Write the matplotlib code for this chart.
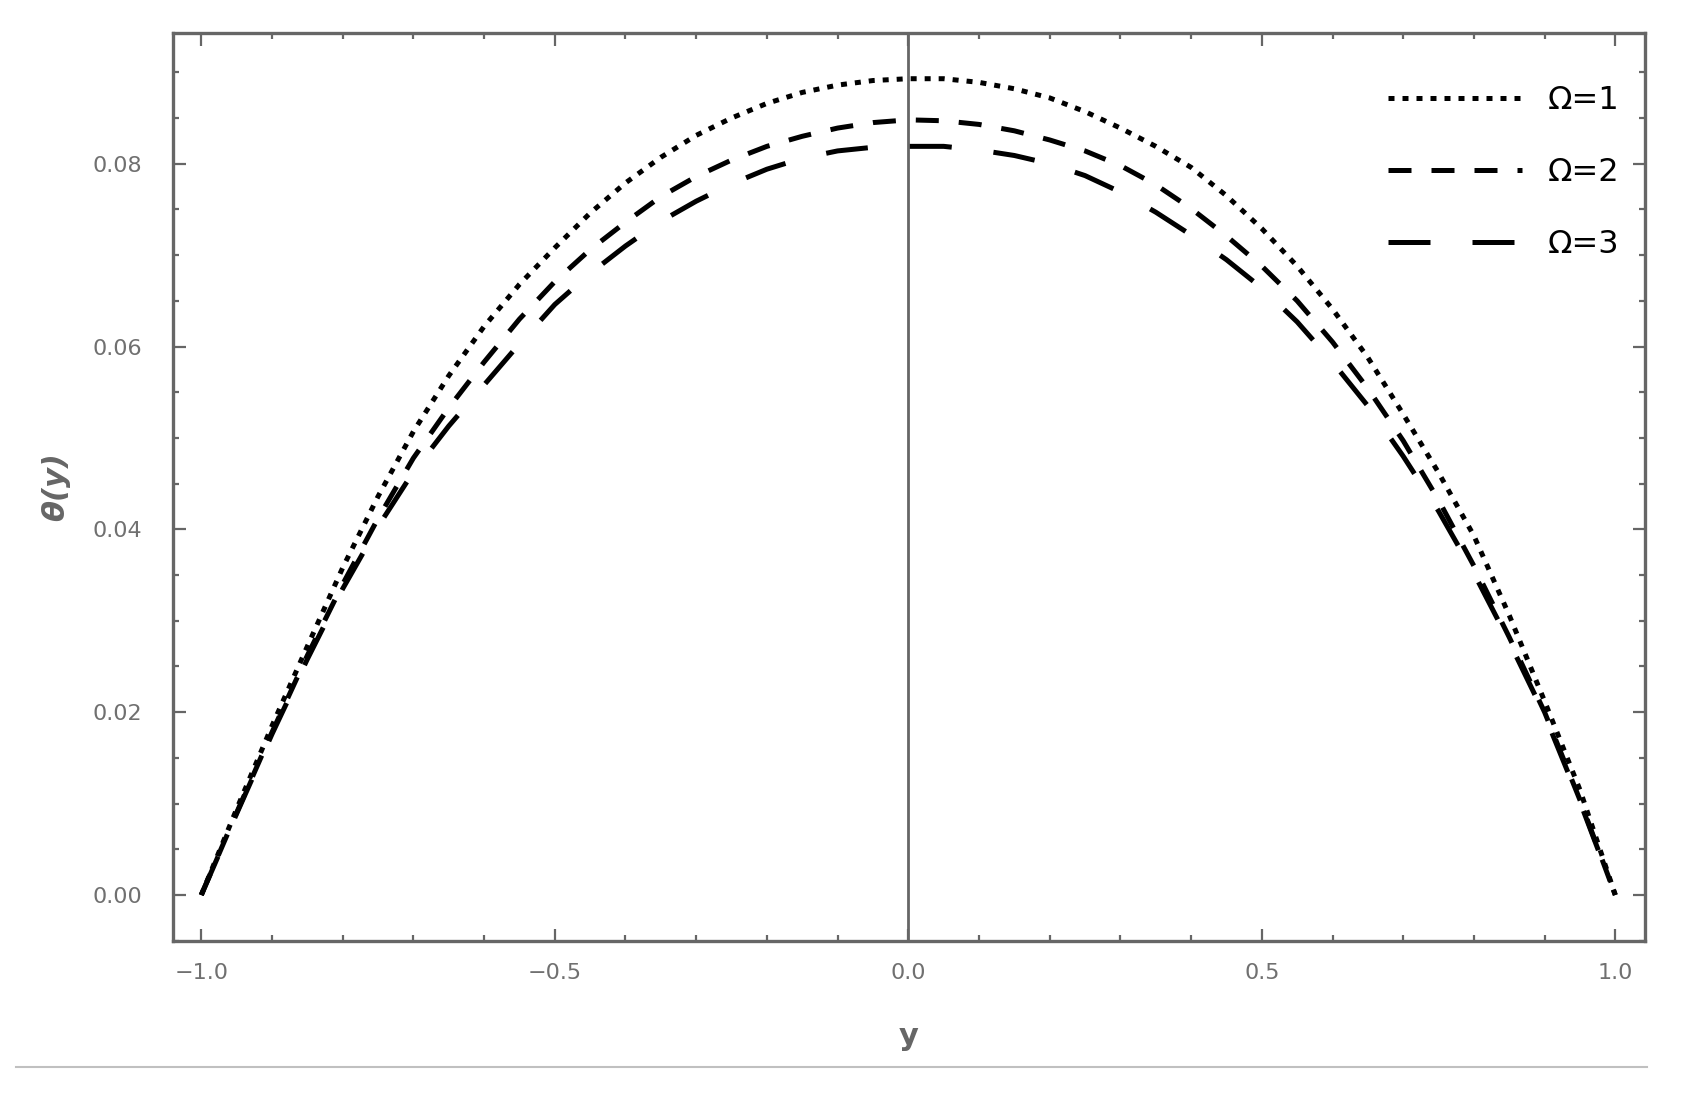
import matplotlib
matplotlib.use("Agg")
import matplotlib.pyplot as plt
from matplotlib.lines import Line2D
from matplotlib.ticker import MultipleLocator

# values
y_values = [-1.0, -0.95, -0.9, -0.85, -0.8, -0.75, -0.7, -0.65, -0.6, -0.55, -0.5,
            -0.45, -0.4, -0.35, -0.3, -0.25, -0.2, -0.15, -0.1, -0.05, 0.0,
            0.05, 0.1, 0.15, 0.2, 0.25, 0.3, 0.35, 0.4, 0.45, 0.5,
            0.55, 0.6, 0.65, 0.7, 0.75, 0.8, 0.85, 0.9, 0.95, 1.0]
theta_omega1 = [0.0, 0.0094, 0.0185, 0.0272, 0.0358, 0.0436, 0.0507, 0.0568, 0.0622, 0.0668, 0.0708,
                0.0746, 0.0779, 0.0807, 0.0831, 0.0850, 0.0866, 0.0878, 0.0886, 0.0891, 0.0893,
                0.0893, 0.0889, 0.0882, 0.0872, 0.0857, 0.0839, 0.0819, 0.0796, 0.0765, 0.0729,
                0.0688, 0.0641, 0.0588, 0.0526, 0.0462, 0.0393, 0.0306, 0.0212, 0.0115, 0.0]
theta_omega2 = [0.0, 0.0090, 0.0178, 0.0262, 0.0340, 0.0412, 0.0478, 0.0533, 0.0583, 0.0630, 0.0671,
                0.0706, 0.0736, 0.0764, 0.0786, 0.0804, 0.0819, 0.0830, 0.0839, 0.0845, 0.0848,
                0.0847, 0.0843, 0.0836, 0.0826, 0.0814, 0.0798, 0.0777, 0.0751, 0.0721, 0.0688,
                0.0650, 0.0605, 0.0554, 0.0497, 0.0432, 0.0360, 0.0282, 0.0200, 0.0104, 0.0]
theta_omega3 = [0.0, 0.0089, 0.0176, 0.0258, 0.0335, 0.0403, 0.0463, 0.0513, 0.0558, 0.0603, 0.0646,
                0.0680, 0.0710, 0.0737, 0.0759, 0.0778, 0.0794, 0.0806, 0.0814, 0.0818, 0.0819,
                0.0819, 0.0815, 0.0809, 0.0800, 0.0787, 0.0769, 0.0747, 0.0722, 0.0695, 0.0664,
                0.0627, 0.0583, 0.0535, 0.0480, 0.0420, 0.0352, 0.0277, 0.0197, 0.0102, 0.0]
series_labels = ["\u03a9=1", "\u03a9=2", "\u03a9=3"]

AXIS_GRAY = "#666666"
LABEL_GRAY = "#707070"
LW = 3.6

fig = plt.figure(figsize=(16.83, 10.98), dpi=100)
ax = fig.add_axes([173 / 1683, 1 - 941 / 1098, (1645 - 173) / 1683, (941 - 33) / 1098])

ax.axvline(0.0, color=AXIS_GRAY, lw=2.0, zorder=1)

styles = [(1.2, 1.6), (4.6, 4.0), (8.4, 8.4)]
for values, label, dashes in zip([theta_omega1, theta_omega2, theta_omega3], series_labels, styles):
    ax.plot(y_values, values, color="black", lw=LW, dashes=dashes,
            dash_capstyle="butt", label=label, zorder=3)

ax.set_xlim(-1.04, 1.042)
ax.set_ylim(-0.00503, 0.0943)

ax.xaxis.set_major_locator(MultipleLocator(0.5))
ax.xaxis.set_minor_locator(MultipleLocator(0.1))
ax.yaxis.set_major_locator(MultipleLocator(0.02))
ax.yaxis.set_minor_locator(MultipleLocator(0.005))
ax.xaxis.set_major_formatter(lambda v, pos: f"{v:.1f}".replace("-", "\u2212"))
ax.yaxis.set_major_formatter(lambda v, pos: f"{v:.2f}")

ax.tick_params(which="both", direction="in", top=True, right=True, color=AXIS_GRAY, width=1.6)
ax.tick_params(which="major", length=9)
ax.tick_params(which="minor", length=4.5)
ax.tick_params(axis="x", which="major", pad=16, labelsize=16, labelcolor=LABEL_GRAY)
ax.tick_params(axis="y", which="major", pad=22, labelsize=16, labelcolor=LABEL_GRAY)
for spine in ax.spines.values():
    spine.set_color(AXIS_GRAY)
    spine.set_linewidth(2.4)

ax.set_xlabel("y", fontsize=22, color=AXIS_GRAY, fontweight="bold", labelpad=28)
ax.set_ylabel("\u03b8(y)", fontsize=22, color=AXIS_GRAY, style="italic", fontweight="bold",
              labelpad=16)

ax.legend(loc="upper right", bbox_to_anchor=(1.002, 0.974), frameon=False, fontsize=23,
          handlelength=4.2, handletextpad=0.8, labelspacing=1.28)

# thin separator under the figure, as in the reference
fig.add_artist(Line2D([16 / 1683, 1647 / 1683], [1 - 1067 / 1098] * 2,
                      color="#c0c0c0", lw=1.5, transform=fig.transFigure))

fig.savefig("out.png", dpi=100)
